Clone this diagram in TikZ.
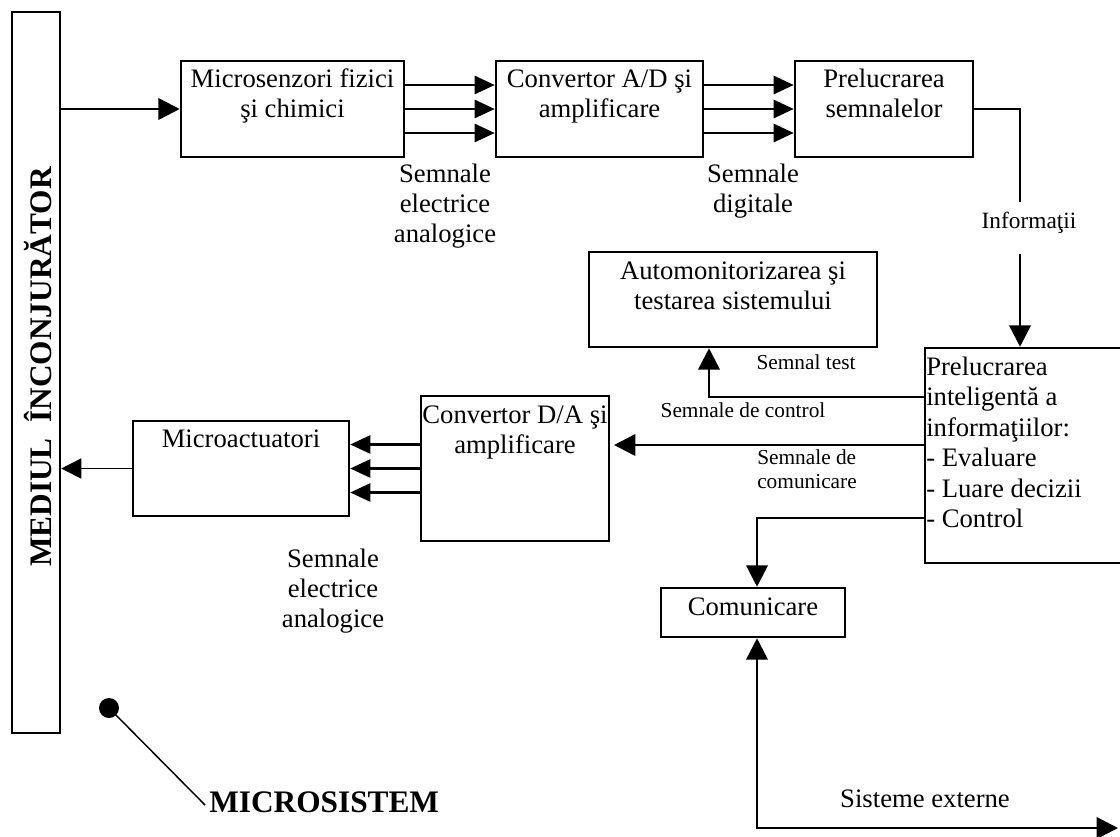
\documentclass[tikz,border=0pt]{standalone}
\usepackage{fontspec}
\setmainfont{Liberation Serif}
\usetikzlibrary{arrows.meta}
\newcommand{\mlines}[2][c]{\begin{tabular}[t]{@{}#1@{}}#2\end{tabular}}
\begin{document}
\begin{tikzpicture}[x=0.75pt,y=-0.75pt,
  box/.style={draw, line width=1.9pt, inner sep=0pt},
  txt/.style={inner sep=0pt, font=\fontsize{20}{22.5}\selectfont},
  small/.style={inner sep=0pt, font=\fontsize{16}{18}\selectfont},
  ln/.style={line width=1.9pt},
  arr/.style={ln, -{Triangle[length=16pt,width=16pt]}},
  arrs/.style={ln, -{Triangle[length=15pt,width=13.5pt]}},
]
\useasboundingbox (0,0) rectangle (1120,836);
\clip (0,0) rectangle (1120,836);

% environment bar
\node[box, minimum width=36pt, minimum height=540.75pt] (bar) at (36,372.5) {};
\node[rotate=90, anchor=base, inner sep=0pt, font=\fontsize{23.5}{26}\selectfont\bfseries] (env) at (51.5,367) {MEDIUL\ \ ÎNCONJURĂTOR};

% boxes
\node[box, minimum width=167.25pt, minimum height=72pt] (b1) at (292.5,109) {};
\node[txt, anchor=base] (b1t) at (292.5,87) {\mlines{Microsenzori fizici\\şi chimici}};
\node[box, minimum width=155.25pt, minimum height=72pt] (b2) at (599.5,109) {};
\node[txt, anchor=base] (b2t) at (599.5,87) {\mlines{Convertor A/D şi\\amplificare}};
\node[box, minimum width=133.5pt, minimum height=72pt] (b3) at (884,109) {};
\node[txt, anchor=base] (b3t) at (884,87) {\mlines{Prelucrarea\\semnalelor}};
\node[box, minimum width=216pt, minimum height=71.25pt] (b4) at (733,299.5) {};
\node[txt, anchor=base] (b4t) at (733,279) {\mlines{Automonitorizarea şi\\testarea sistemului}};
\node[box, minimum width=150pt, minimum height=161.25pt] (b5) at (1025,455.5) {};
\node[inner sep=0pt, font=\fontsize{20}{22.9}\selectfont, anchor=base west] (b5t) at (926,375) {\mlines[l]{Prelucrarea\\inteligentă a\\informaţiilor:\\- Evaluare\\- Luare decizii\\- Control}};
\node[box, minimum width=141pt, minimum height=108.75pt] (b6) at (515,468.5) {};
\node[txt, anchor=base] (b6t) at (515,423) {\mlines{Convertor D/A şi\\amplificare}};
\node[box, minimum width=162pt, minimum height=71.25pt] (mact) at (241,468.5) {};
\node[txt, anchor=base] (mactt) at (241,447) {Microactuatori};
\node[box, minimum width=138pt, minimum height=36.75pt] (b7) at (753,612.5) {};
\node[txt, anchor=base] (b7t) at (753,615) {Comunicare};

% labels
\node[txt, anchor=base] (l1) at (445,182) {\mlines{Semnale\\electrice\\analogice}};
\node[txt, anchor=base] (l2) at (753,182) {\mlines{Semnale\\digitale}};
\node[txt, anchor=base] (l3) at (333,567) {\mlines{Semnale\\electrice\\analogice}};
\node[inner sep=0pt, anchor=base, font=\fontsize{17.5}{20}\selectfont] (info) at (1029,228) {Informaţii};
\node[small, anchor=base] (stest) at (806,369) {Semnal test};
\node[small, anchor=base] (sctrl) at (743,417) {Semnale de control};
\node[small, anchor=base west] (scom) at (757,464) {\mlines[l]{Semnale de\\comunicare}};
\node[txt, anchor=base] (sext) at (925,807) {Sisteme externe};
\node[inner sep=0pt, anchor=base west, font=\fontsize{23.5}{26}\selectfont\bfseries] (micro) at (209,812) {MICROSISTEM};

% microsystem pointer
\node[circle, fill, inner sep=0pt, minimum size=15pt] (dot) at (109,708) {};
\coordinate (mtip) at (205,805);
\draw[line width=1.1pt] (dot.center) -- (mtip);

% connectors
\draw[arr] (bar.east |- b1.west) -- (b1.west);
\foreach \s in {18pt,0pt,-18pt} {
  \draw[arrs] ([yshift=\s]b1.east) -- ([yshift=\s]b2.west);
  \draw[arrs] ([yshift=\s]b2.east) -- ([yshift=\s]b3.west);
  \draw[arrs] ([yshift=\s]b6.west) -- ([yshift=\s]mact.east);
}
\coordinate (i1) at (1020,202);
\coordinate (i2) at (1020,254);
\draw[ln] (b3.east) -| (i1);
\draw[arr] (i2) -- (i2 |- b5.north);
\coordinate (pc) at (709,397);
\draw[arr] (b5.west |- pc) -| (pc |- b4.south);
\coordinate (pd) at (614,445);
\draw[arr] (b5.west |- pd) -- (pd);
\draw[line width=1.2pt, -{Triangle[length=15pt,width=15pt]}] (mact.west) -- (mact.west -| bar.east);
\coordinate (pk) at (757,518);
\draw[arr] (b5.west |- pk) -| (pk |- b7.north);
\coordinate (pe) at (757,828);
\coordinate (pf) at (1118,828);
\draw[ln, {Triangle[length=16pt,width=16pt]}-{Triangle[length=16pt,width=16pt]}] (pe |- b7.south) -- (pe) -- (pf);
\end{tikzpicture}
\end{document}
